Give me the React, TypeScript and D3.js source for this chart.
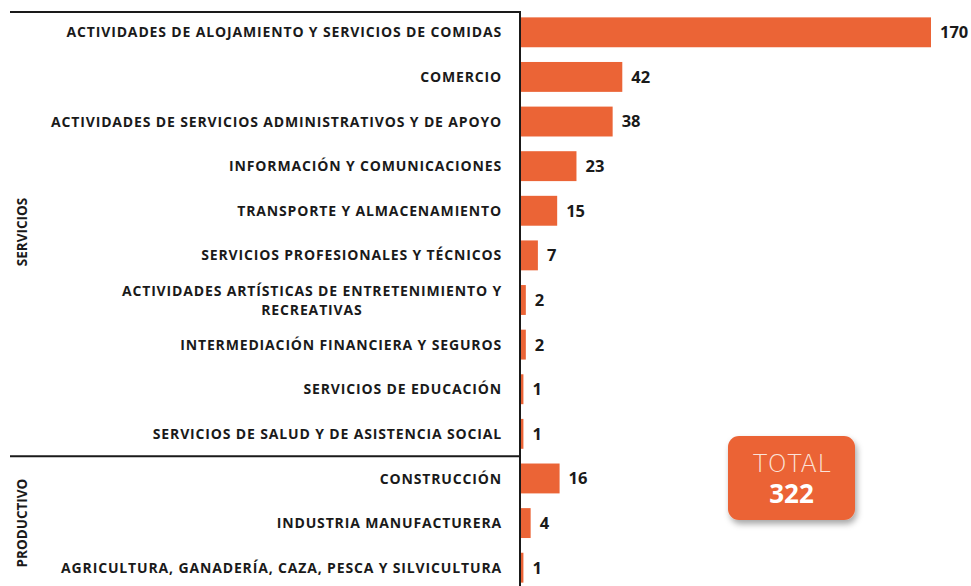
import React, { useEffect, useRef } from "react";
import * as d3 from "d3";

const categories = [
	"ACTIVIDADES DE ALOJAMIENTO Y SERVICIOS DE COMIDAS",
	"COMERCIO",
	"ACTIVIDADES DE SERVICIOS ADMINISTRATIVOS Y DE APOYO",
	"INFORMACIÓN Y COMUNICACIONES",
	"TRANSPORTE Y ALMACENAMIENTO",
	"SERVICIOS PROFESIONALES Y TÉCNICOS",
	"ACTIVIDADES ARTÍSTICAS DE ENTRETENIMIENTO Y|RECREATIVAS",
	"INTERMEDIACIÓN FINANCIERA Y SEGUROS",
	"SERVICIOS DE EDUCACIÓN",
	"SERVICIOS DE SALUD Y DE ASISTENCIA SOCIAL",
	"CONSTRUCCIÓN",
	"INDUSTRIA MANUFACTURERA",
	"AGRICULTURA, GANADERÍA, CAZA, PESCA Y SILVICULTURA",
];
const values = [170, 42, 38, 23, 15, 7, 2, 2, 1, 1, 16, 4, 1];
const groups = ["SERVICIOS", "PRODUCTIVO"];
const groupSizes = [10, 3];
const totalLabel = "TOTAL";
const totalValue = 322;

const W = 971;
const H = 586;
const BAR = "#EB6436";
const FONT = "'Open Sans', sans-serif";

export default function App() {
	const ref = useRef(null);

	useEffect(() => {
		const svg = d3.select(ref.current);
		svg.selectAll("*").remove();

		const x0 = 521;
		const x = d3.scaleLinear().domain([0, 170]).range([x0, 931]);
		const y = d3
			.scaleBand()
			.domain(categories.map((d, i) => String(i)))
			.range([10, 590])
			.paddingInner(0.33)
			.paddingOuter(0.165);

		const defs = svg.append("defs");
		const f = defs.append("filter").attr("id", "shadow").attr("x", "-20%").attr("y", "-20%").attr("width", "150%").attr("height", "160%");
		f.append("feDropShadow").attr("dx", 2).attr("dy", 4).attr("stdDeviation", 3).attr("flood-color", "#000").attr("flood-opacity", 0.35);

		// bars
		svg
			.selectAll(".bar")
			.data(values)
			.enter()
			.append("rect")
			.attr("x", x0)
			.attr("y", (d, i) => y(String(i)))
			.attr("width", (d) => x(d) - x0)
			.attr("height", y.bandwidth())
			.attr("fill", BAR);

		// value labels
		svg
			.selectAll(".val")
			.data(values)
			.enter()
			.append("text")
			.attr("x", (d) => x(d) + 9)
			.attr("y", (d, i) => y(String(i)) + y.bandwidth() / 2)
			.attr("dy", "0.36em")
			.attr("font-family", FONT)
			.attr("font-weight", 700)
			.attr("font-size", 16.5)
			.attr("fill", "#1a1a1a")
			.text((d) => d);

		// category labels
		categories.forEach((c, i) => {
			const lines = c.split("|");
			const cy = y(String(i)) + y.bandwidth() / 2;
			const t = svg
				.append("text")
				.attr("font-family", FONT)
				.attr("font-weight", 700)
				.attr("font-size", 14)
				.attr("letter-spacing", 0.85)
				.attr("fill", "#1a1a1a");
			if (lines.length === 1) {
				t.attr("x", 502).attr("y", cy).attr("dy", "0.36em").attr("text-anchor", "end").text(c);
			} else {
				const first = t.append("tspan").attr("x", 502).attr("y", cy - 9.5).attr("dy", "0.36em").attr("text-anchor", "end").text(lines[0]);
				const w = first.node().getComputedTextLength();
				t.append("tspan")
					.attr("x", 502 - w / 2)
					.attr("y", cy + 9.5)
					.attr("dy", "0.36em")
					.attr("text-anchor", "middle")
					.text(lines[1]);
			}
		});

		// frame lines
		const sep = (y(String(9)) + y.bandwidth() + y(String(10))) / 2;
		const line = (x1, y1, x2, y2) =>
			svg.append("line").attr("x1", x1).attr("y1", y1).attr("x2", x2).attr("y2", y2).attr("stroke", "#1a1a1a").attr("stroke-width", 2);
		line(10, 12, x0, 12);
		line(x0 - 1, 11, x0 - 1, H);
		line(10, sep, x0, sep);

		// group labels
		let start = 0;
		groups.forEach((g, gi) => {
			const a = y(String(start));
			const b = y(String(start + groupSizes[gi] - 1)) + y.bandwidth();
			const cy = gi === 0 ? 232 : (a + b) / 2;
			svg
				.append("text")
				.attr("transform", `translate(22,${cy}) rotate(-90)`)
				.attr("text-anchor", "middle")
				.attr("dy", "0.36em")
				.attr("font-family", FONT)
				.attr("font-weight", 700)
				.attr("font-size", 13.5)
				.attr("fill", "#1a1a1a")
				.text(g);
			start += groupSizes[gi];
		});

		// total box
		const box = svg.append("g").attr("transform", "translate(728,436)");
		box.append("rect").attr("width", 127).attr("height", 84).attr("rx", 11).attr("fill", BAR).attr("filter", "url(#shadow)");
		box
			.append("text")
			.attr("x", 64)
			.attr("y", 36)
			.attr("text-anchor", "middle")
			.attr("font-family", "'DejaVu Sans', sans-serif")
			.attr("font-weight", 300)
			.attr("font-size", 24)
			.attr("letter-spacing", 0.5)
			.attr("fill", "#FBE3DA")
			.text(totalLabel);
		box
			.append("text")
			.attr("x", 63.5)
			.attr("y", 67)
			.attr("text-anchor", "middle")
			.attr("font-family", "'Open Sans', sans-serif")
			.attr("font-weight", 700)
			.attr("font-size", 26)
			.attr("fill", "#fff")
			.text(totalValue);
	}, []);

	return (
		<svg ref={ref} width={W} height={H} style={{ position: "absolute", left: 0, top: 0, background: "#fff" }} />
	);
}
